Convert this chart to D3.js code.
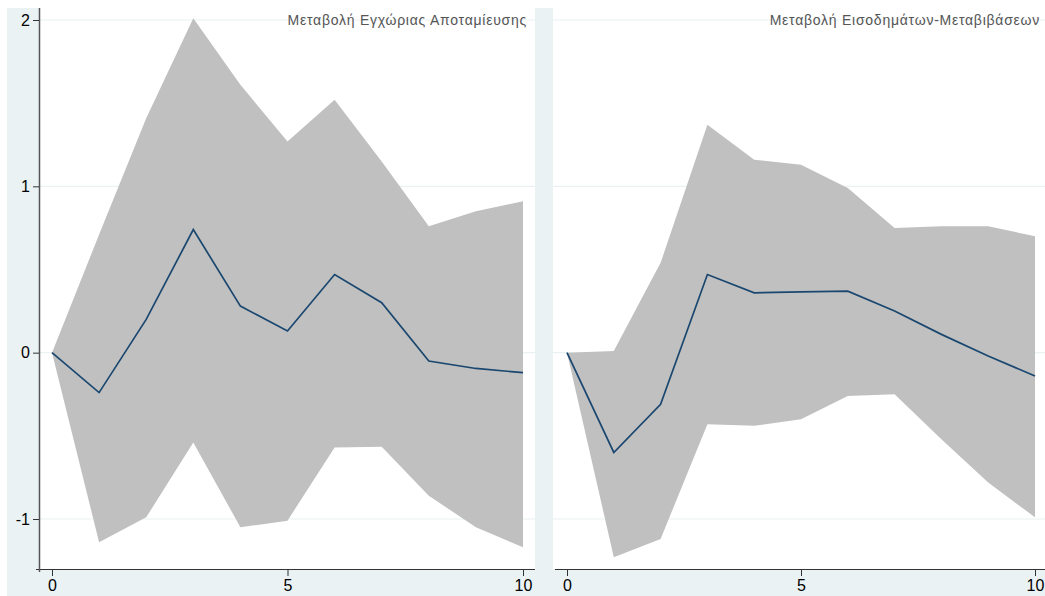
<!DOCTYPE html>
<html><head><meta charset="utf-8">
<script src="https://cdn.jsdelivr.net/npm/d3@7"></script>
<style>html,body{margin:0;padding:0;background:#fff;}svg{display:block;}</style>
</head><body>
<svg id="chart" width="1045" height="596"></svg>
<script>
const steps = [0,1,2,3,4,5,6,7,8,9,10];
const yTicks = [-1,0,1,2];
const xTicks = [0,5,10];
const titleSaving = "Μεταβολή Εγχώριας Αποταμίευσης";
const titleIncome = "Μεταβολή Εισοδημάτων-Μεταβιβάσεων";

const savingIrf   = [0,-0.24,0.20,0.74,0.28,0.13,0.47,0.30,-0.05,-0.095,-0.12];
const savingUpper = [0,0.71,1.41,2.01,1.61,1.27,1.52,1.15,0.76,0.85,0.91];
const savingLower = [0,-1.14,-0.99,-0.54,-1.05,-1.01,-0.57,-0.565,-0.86,-1.05,-1.17];

const incomeIrf   = [0,-0.60,-0.31,0.47,0.36,0.365,0.37,0.25,0.11,-0.02,-0.14];
const incomeUpper = [0,0.01,0.54,1.37,1.16,1.13,0.99,0.75,0.76,0.76,0.70];
const incomeLower = [0,-1.23,-1.12,-0.43,-0.44,-0.40,-0.26,-0.25,-0.52,-0.78,-0.99];

const svg = d3.select("#chart");
const BG = "#EAF2F3";
const FONT = "Liberation Sans, Arial, sans-serif";

svg.append("rect").attr("x",7).attr("y",8).attr("width",1038).attr("height",588).attr("fill",BG);

const y = d3.scaleLinear().domain([-1,2]).range([519,20]);

const panels = [
  {x0:39, x1:535, range:[52,523], irf:savingIrf, up:savingUpper, lo:savingLower, title:titleSaving, tx:527, yaxis:true},
  {x0:553, x1:1045, range:[567,1035], irf:incomeIrf, up:incomeUpper, lo:incomeLower, title:titleIncome, tx:1040, yaxis:false}
];
const plotTop = 8, plotBottom = 569;

panels.forEach(p => {
  const x = d3.scaleLinear().domain([0,10]).range(p.range);
  const g = svg.append("g");
  g.append("rect").attr("x",p.x0).attr("y",plotTop).attr("width",p.x1-p.x0).attr("height",plotBottom-plotTop).attr("fill","#fff");
  g.selectAll(".grid").data(yTicks).enter().append("line")
    .attr("x1",p.x0).attr("x2",p.x1).attr("y1",d=>y(d)).attr("y2",d=>y(d))
    .attr("stroke","#EAF2F3").attr("stroke-width",1.2);
  const data = steps.map((s,i)=>({s, irf:p.irf[i], up:p.up[i], lo:p.lo[i]}));
  const area = d3.area().x(d=>x(d.s)).y0(d=>y(d.lo)).y1(d=>y(d.up));
  g.append("path").datum(data).attr("d",area).attr("fill","#C0C0C0");
  const line = d3.line().x(d=>x(d.s)).y(d=>y(d.irf));
  g.append("path").datum(data).attr("d",line).attr("fill","none").attr("stroke","#1A476F").attr("stroke-width",1.7);
  const xa = g.append("g").attr("transform",`translate(0,${plotBottom})`)
    .call(d3.axisBottom(x).tickValues(xTicks).tickSize(6).tickPadding(5).tickFormat(d => String(d)));
  xa.select(".domain").remove();
  xa.selectAll("text").attr("font-family",FONT).attr("font-size",16).attr("fill","#000");
  xa.selectAll("line").attr("stroke","#333").attr("transform","translate(0,1)");
  g.append("line").attr("x1",p.x0+(p.yaxis?-3:2)).attr("x2",p.x1).attr("y1",plotBottom+0.5).attr("y2",plotBottom+0.5).attr("stroke","#333").attr("stroke-width",1.2);
  if (p.yaxis) {
    const ya = g.append("g").attr("transform",`translate(${p.x0},0)`)
      .call(d3.axisLeft(y).tickValues(yTicks).tickSize(6).tickPadding(3).tickFormat(d => String(d)));
    ya.select(".domain").remove();
    ya.selectAll("text").attr("font-family",FONT).attr("font-size",16).attr("fill","#000");
    ya.selectAll("line").attr("stroke","#333");
    g.append("line").attr("x1",p.x0+0.5).attr("x2",p.x0+0.5).attr("y1",plotTop).attr("y2",plotBottom+3).attr("stroke","#555").attr("stroke-width",1.5);
  }
  g.append("text").attr("x",p.tx).attr("y",25).attr("text-anchor","end")
    .attr("font-family",FONT).attr("font-size",14).attr("letter-spacing",0.75).attr("fill","#555")
    .text(p.title);
});
</script>
</body></html>
